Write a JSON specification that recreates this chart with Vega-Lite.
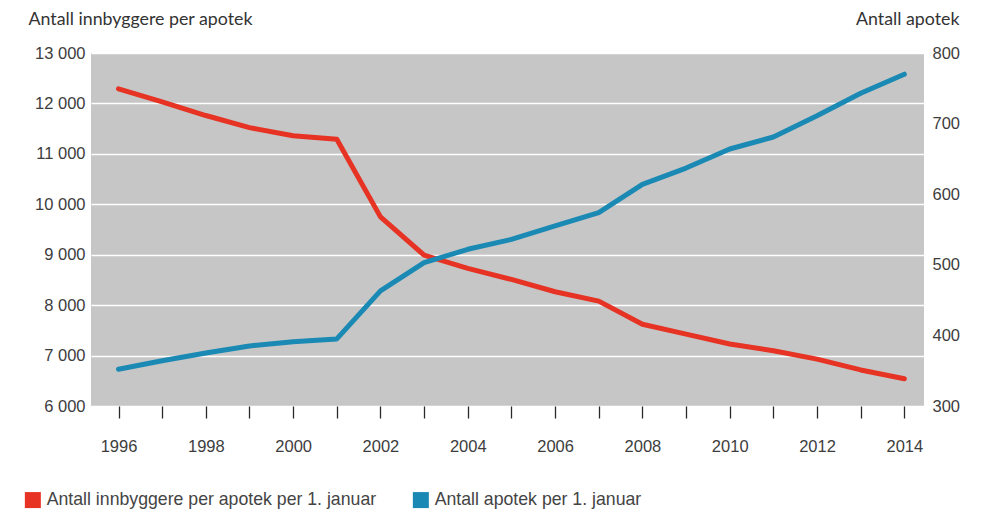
{
  "$schema": "https://vega.github.io/schema/vega-lite/v6.json",
  "autosize": "none",
  "width": 833,
  "height": 353,
  "padding": {"left": 91, "top": 53, "right": 62, "bottom": 107},
  "background": "white",
  "config": {
    "view": {"fill": "#c6c6c6", "stroke": null},
    "axis": {
      "labelFont": "Liberation Sans",
      "labelFontSize": 16.5,
      "labelColor": "#3d3d3d",
      "titleFont": "Lato",
      "titleFontSize": 17.8,
      "titleFontWeight": "normal",
      "titleColor": "#333333"
    }
  },
  "data": {
    "values": [
      {"år": 1996, "serie": "Antall innbyggere per apotek per 1. januar", "verdi": 12290},
      {"år": 1997, "serie": "Antall innbyggere per apotek per 1. januar", "verdi": 12030},
      {"år": 1998, "serie": "Antall innbyggere per apotek per 1. januar", "verdi": 11760},
      {"år": 1999, "serie": "Antall innbyggere per apotek per 1. januar", "verdi": 11520},
      {"år": 2000, "serie": "Antall innbyggere per apotek per 1. januar", "verdi": 11360},
      {"år": 2001, "serie": "Antall innbyggere per apotek per 1. januar", "verdi": 11290},
      {"år": 2002, "serie": "Antall innbyggere per apotek per 1. januar", "verdi": 9750},
      {"år": 2003, "serie": "Antall innbyggere per apotek per 1. januar", "verdi": 8990},
      {"år": 2004, "serie": "Antall innbyggere per apotek per 1. januar", "verdi": 8730},
      {"år": 2005, "serie": "Antall innbyggere per apotek per 1. januar", "verdi": 8510},
      {"år": 2006, "serie": "Antall innbyggere per apotek per 1. januar", "verdi": 8265},
      {"år": 2007, "serie": "Antall innbyggere per apotek per 1. januar", "verdi": 8080},
      {"år": 2008, "serie": "Antall innbyggere per apotek per 1. januar", "verdi": 7620},
      {"år": 2009, "serie": "Antall innbyggere per apotek per 1. januar", "verdi": 7425},
      {"år": 2010, "serie": "Antall innbyggere per apotek per 1. januar", "verdi": 7230},
      {"år": 2011, "serie": "Antall innbyggere per apotek per 1. januar", "verdi": 7095},
      {"år": 2012, "serie": "Antall innbyggere per apotek per 1. januar", "verdi": 6930},
      {"år": 2013, "serie": "Antall innbyggere per apotek per 1. januar", "verdi": 6715},
      {"år": 2014, "serie": "Antall innbyggere per apotek per 1. januar", "verdi": 6540},
      {"år": 1996, "serie": "Antall apotek per 1. januar", "verdi": 352},
      {"år": 1997, "serie": "Antall apotek per 1. januar", "verdi": 364},
      {"år": 1998, "serie": "Antall apotek per 1. januar", "verdi": 375},
      {"år": 1999, "serie": "Antall apotek per 1. januar", "verdi": 385},
      {"år": 2000, "serie": "Antall apotek per 1. januar", "verdi": 391},
      {"år": 2001, "serie": "Antall apotek per 1. januar", "verdi": 395},
      {"år": 2002, "serie": "Antall apotek per 1. januar", "verdi": 463},
      {"år": 2003, "serie": "Antall apotek per 1. januar", "verdi": 503},
      {"år": 2004, "serie": "Antall apotek per 1. januar", "verdi": 522},
      {"år": 2005, "serie": "Antall apotek per 1. januar", "verdi": 536},
      {"år": 2006, "serie": "Antall apotek per 1. januar", "verdi": 555},
      {"år": 2007, "serie": "Antall apotek per 1. januar", "verdi": 574},
      {"år": 2008, "serie": "Antall apotek per 1. januar", "verdi": 614},
      {"år": 2009, "serie": "Antall apotek per 1. januar", "verdi": 637},
      {"år": 2010, "serie": "Antall apotek per 1. januar", "verdi": 664},
      {"år": 2011, "serie": "Antall apotek per 1. januar", "verdi": 681},
      {"år": 2012, "serie": "Antall apotek per 1. januar", "verdi": 711},
      {"år": 2013, "serie": "Antall apotek per 1. januar", "verdi": 743},
      {"år": 2014, "serie": "Antall apotek per 1. januar", "verdi": 770}
    ]
  },
  "encoding": {
    "x": {
      "field": "år",
      "type": "quantitative",
      "scale": {"domain": [1995.37, 2014.45], "nice": false, "zero": false},
      "axis": {
        "title": null,
        "grid": false,
        "domain": false,
        "values": [1996, 1997, 1998, 1999, 2000, 2001, 2002, 2003, 2004, 2005, 2006, 2007, 2008, 2009, 2010, 2011, 2012, 2013, 2014],
        "labelExpr": "datum.value % 2 == 0 ? '' + datum.value : ''",
        "tickColor": "#2a2a2a",
        "tickWidth": 1.3,
        "tickSize": 12,
        "labelBaseline": "alphabetic",
        "labelPadding": 33,
        "labelFlush": false,
        "labelOverlap": false
      }
    },
    "color": {
      "field": "serie",
      "type": "nominal",
      "scale": {
        "domain": ["Antall innbyggere per apotek per 1. januar", "Antall apotek per 1. januar"],
        "range": ["#e63323", "#1a8ab4"]
      },
      "legend": {
        "title": null,
        "orient": "none",
        "direction": "horizontal",
        "legendX": -67,
        "legendY": 438,
        "padding": 0,
        "symbolType": "square",
        "symbolSize": 256,
        "symbolStrokeWidth": 0,
        "labelFont": "Liberation Sans",
        "labelFontSize": 17.7,
        "labelColor": "#444444",
        "labelOffset": 5,
        "labelLimit": 500,
        "columnPadding": 35,
        "encode": {
          "symbols": {
            "update": {
              "fill": {"scale": "color", "field": "value"},
              "opacity": {"value": 1}
            }
          }
        }
      }
    }
  },
  "layer": [
    {
      "transform": [{"filter": {"field": "serie", "equal": "Antall innbyggere per apotek per 1. januar"}}],
      "mark": {"type": "line", "strokeWidth": 5, "strokeCap": "round", "strokeJoin": "round"},
      "encoding": {
        "y": {
          "field": "verdi",
          "type": "quantitative",
          "scale": {"domain": [6000, 13000], "nice": false, "zero": false},
          "axis": {
            "orient": "left",
            "values": [6000, 7000, 8000, 9000, 10000, 11000, 12000, 13000],
            "labelExpr": "replace(format(datum.value, ','), ',', ' ')",
            "grid": true,
            "gridColor": "#ffffff",
            "gridWidth": 1.6,
            "ticks": false,
            "domain": false,
            "labelPadding": 6,
            "title": "Antall innbyggere per apotek",
            "titleAngle": 0,
            "titleAlign": "left",
            "titleBaseline": "alphabetic",
            "titleX": -63,
            "titleY": -29
          }
        }
      }
    },
    {
      "transform": [{"filter": {"field": "serie", "equal": "Antall apotek per 1. januar"}}],
      "mark": {"type": "line", "strokeWidth": 5, "strokeCap": "round", "strokeJoin": "round"},
      "encoding": {
        "y": {
          "field": "verdi",
          "type": "quantitative",
          "scale": {"domain": [300, 800], "nice": false, "zero": false},
          "axis": {
            "orient": "right",
            "values": [300, 400, 500, 600, 700, 800],
            "grid": false,
            "ticks": false,
            "domain": false,
            "labelPadding": 8,
            "title": "Antall apotek",
            "titleAngle": 0,
            "titleAlign": "right",
            "titleBaseline": "alphabetic",
            "titleX": 35,
            "titleY": -29
          }
        }
      }
    }
  ],
  "resolve": {"scale": {"y": "independent"}}
}
